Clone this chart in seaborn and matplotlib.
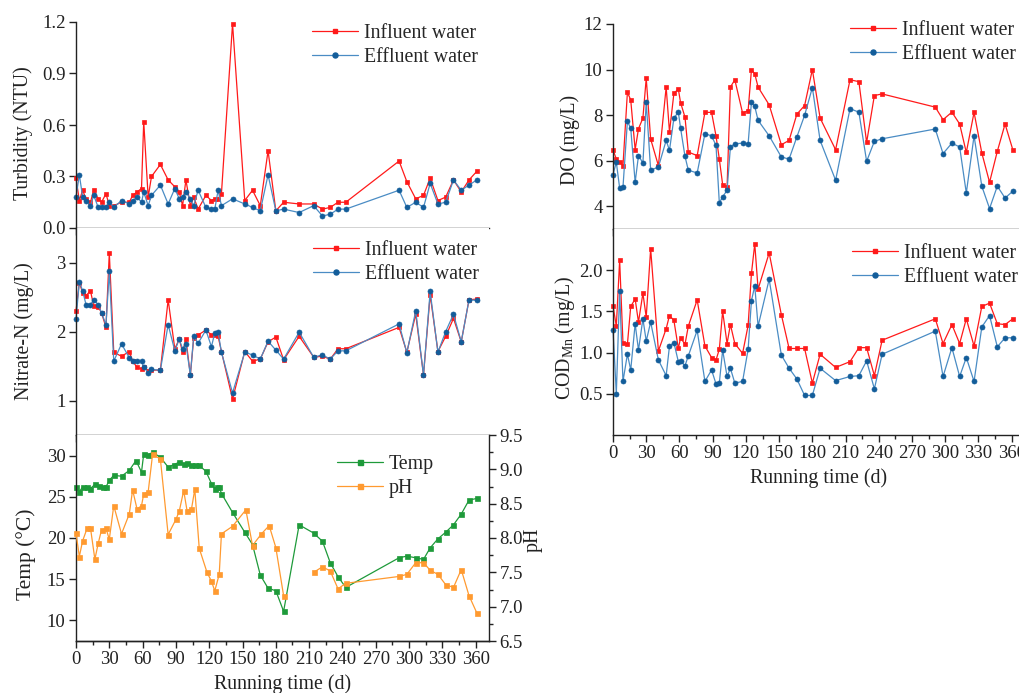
import numpy as np
import pandas as pd
import matplotlib
matplotlib.use("Agg")
import matplotlib.pyplot as plt
import seaborn as sns
from matplotlib.ticker import MultipleLocator, FixedLocator
from matplotlib.lines import Line2D

# ---------------- data ----------------
days = [0, 3, 6, 9, 13, 16, 20, 23, 27, 30, 34, 41, 48, 51, 55, 59, 61, 65, 68, 76,
        83, 89, 93, 96, 99, 103, 106, 110, 117, 122, 125, 128, 131, 141, 152, 159, 166, 173, 180, 187,
        201, 214, 222, 229, 236, 243, 291, 298, 306, 313, 319, 326, 333, 340, 347, 354, 361]

turb_in = [0.29, 0.16, 0.22, 0.17, 0.15, 0.22, 0.17, 0.15, 0.20, 0.13, 0.13, 0.15, 0.15, 0.19, 0.21, 0.23, 0.62, 0.18, 0.30, 0.37,
           0.28, 0.24, 0.21, 0.13, 0.28, 0.13, 0.18, 0.11, 0.19, 0.16, 0.17, 0.17, 0.20, 1.19, 0.16, 0.22, 0.13, 0.45, 0.10, 0.15,
           0.14, 0.14, 0.11, 0.12, 0.15, 0.15, 0.39, 0.27, 0.17, 0.19, 0.29, 0.16, 0.18, 0.28, 0.21, 0.28, 0.33]
turb_out = [0.18, 0.31, 0.18, 0.16, 0.13, 0.19, 0.12, 0.12, 0.12, 0.15, 0.12, 0.16, 0.14, 0.16, 0.18, 0.15, 0.21, 0.13, 0.19, 0.25,
            0.14, 0.23, 0.17, 0.18, 0.21, 0.17, 0.13, 0.22, 0.12, 0.11, 0.11, 0.22, 0.13, 0.17, 0.14, 0.12, 0.10, 0.31, 0.10, 0.11,
            0.09, 0.13, 0.07, 0.08, 0.11, 0.11, 0.22, 0.12, 0.15, 0.12, 0.26, 0.14, 0.15, 0.28, 0.22, 0.25, 0.28]

no3_in = [2.30, 2.71, 2.56, 2.52, 2.59, 2.37, 2.36, 2.27, 2.06, 3.14, 1.70, 1.64, 1.71, 1.57, 1.48, 1.46, 1.49, 1.43, 1.44, 1.44,
          2.46, 1.75, 1.89, 1.70, 1.89, 1.37, 1.90, 1.95, 2.02, 1.95, 1.95, 1.93, 1.71, 1.02, 1.71, 1.57, 1.60, 1.85, 1.92, 1.59,
          1.93, 1.63, 1.64, 1.60, 1.75, 1.75, 2.06, 1.70, 2.25, 1.37, 2.53, 1.71, 1.93, 2.19, 1.85, 2.46, 2.47]
no3_out = [2.18, 2.72, 2.59, 2.39, 2.39, 2.46, 2.39, 2.27, 2.10, 2.87, 1.57, 1.82, 1.62, 1.57, 1.57, 1.57, 1.49, 1.40, 1.45, 1.44,
           2.10, 1.72, 1.89, 1.75, 1.82, 1.37, 1.93, 1.83, 2.02, 1.78, 1.98, 1.99, 1.70, 1.11, 1.70, 1.66, 1.60, 1.86, 1.73, 1.60,
           1.99, 1.63, 1.66, 1.60, 1.72, 1.72, 2.11, 1.69, 2.30, 1.37, 2.58, 1.70, 2.00, 2.25, 1.85, 2.46, 2.45]

do_in = [6.48, 6.07, 5.94, 5.78, 9.00, 8.67, 6.48, 7.40, 7.87, 9.62, 6.95, 5.78, 9.23, 7.26, 8.96, 9.14, 8.55, 7.91, 6.38, 6.22,
         8.12, 8.12, 7.09, 6.07, 4.95, 4.85, 9.23, 9.55, 8.09, 8.20, 9.99, 9.81, 9.23, 8.45, 6.70, 6.89, 8.04, 8.42, 10.0, 7.87,
         6.48, 9.55, 9.47, 6.80, 8.86, 8.93, 8.35, 7.80, 8.13, 7.61, 6.36, 8.12, 6.34, 5.05, 6.41, 7.61, 6.48]
do_out = [5.39, 5.93, 4.80, 4.83, 7.72, 7.43, 5.05, 6.22, 5.90, 8.57, 5.58, 5.72, 6.89, 6.45, 7.87, 8.13, 7.43, 6.19, 5.58, 5.46,
          7.18, 7.09, 6.67, 4.15, 4.41, 4.70, 6.60, 6.74, 6.77, 6.74, 8.57, 8.38, 7.77, 7.09, 6.16, 6.07, 7.04, 7.99, 9.21, 6.89,
          5.14, 8.28, 8.13, 5.97, 6.85, 6.96, 7.39, 6.31, 6.77, 6.60, 4.58, 7.09, 4.88, 3.90, 4.88, 4.36, 4.66]

cod_in = [1.57, 1.32, 2.12, 1.12, 1.10, 1.56, 1.65, 1.37, 1.72, 1.43, 2.26, 1.02, 1.29, 1.45, 1.39, 1.05, 1.18, 1.10, 1.32, 1.64,
          1.08, 0.94, 0.91, 1.04, 1.50, 1.11, 1.34, 1.11, 0.99, 1.33, 1.96, 2.32, 1.77, 2.21, 1.46, 1.05, 1.05, 1.05, 0.63, 0.98,
          0.82, 0.89, 1.06, 1.06, 0.72, 1.15, 1.41, 1.11, 1.34, 1.11, 1.41, 1.08, 1.56, 1.60, 1.35, 1.34, 1.41]
cod_out = [1.28, 0.50, 1.75, 0.65, 0.98, 0.79, 1.35, 1.03, 1.41, 1.14, 1.37, 0.91, 0.72, 1.08, 1.12, 0.89, 0.90, 0.84, 0.96, 1.27,
           0.65, 0.79, 0.62, 0.63, 1.03, 0.71, 0.81, 0.63, 0.65, 1.04, 1.63, 1.81, 1.32, 1.89, 0.97, 0.81, 0.68, 0.48, 0.48, 0.81,
           0.66, 0.71, 0.72, 0.90, 0.56, 0.98, 1.26, 0.71, 1.06, 0.71, 0.94, 0.65, 1.31, 1.45, 1.07, 1.18, 1.18]

temp_days = [0, 3, 6, 10, 13, 17, 21, 24, 27, 30, 34, 41, 48, 54, 59, 61, 65, 69, 76, 83,
             88, 93, 97, 100, 104, 107, 111, 117, 122, 125, 127, 129, 131, 141, 152, 159, 166, 173, 180, 187,
             201, 214, 222, 229, 236, 243, 291, 298, 306, 313, 319, 326, 333, 340, 347, 354, 361]
temp = [26.2, 25.6, 26.2, 26.2, 26.0, 26.5, 26.3, 26.2, 26.2, 27.0, 27.6, 27.5, 28.2, 29.4, 28.0, 30.2, 30.1, 30.4, 29.8, 28.6,
        28.9, 29.2, 29.0, 29.1, 28.9, 28.9, 28.8, 28.1, 26.6, 26.0, 26.2, 26.2, 25.4, 23.1, 20.7, 19.2, 15.5, 13.9, 13.6, 11.1,
        21.6, 20.6, 19.6, 17.0, 15.3, 14.0, 17.6, 17.8, 17.6, 17.4, 18.8, 19.9, 20.7, 21.6, 22.9, 24.6, 24.8]

ph_days = [0, 3, 6, 10, 13, 17, 20, 23, 27, 30, 34, 41, 48, 51, 55, 59, 61, 65, 69, 76,
           83, 90, 93, 97, 100, 104, 107, 111, 118, 122, 125, 129, 131, 141, 153, 159, 167, 174, 180, 187,
           201, 214, 222, 229, 236, 243, 291, 298, 306, 313, 319, 326, 333, 340, 347, 354, 361]
ph = [8.07, 7.73, 7.96, 8.14, 8.15, 7.69, 7.92, 8.12, 8.14, 7.98, 8.47, 8.06, 8.35, 8.70, 8.42, 8.47, 8.64, 8.67, 9.22, 9.15,
      8.05, 8.27, 8.39, 8.69, 8.40, 8.42, 8.71, 7.85, 7.50, 7.37, 7.23, 7.47, 8.06, 8.17, 8.41, 7.89, 8.06, 8.18, 7.86, 7.16,
      np.nan, 7.50, 7.58, 7.52, 7.26, 7.34, 7.44, 7.47, 7.64, 7.64, 7.53, 7.47, 7.32, 7.28, 7.54, 7.16, 6.91]

x_ticks = list(range(0, 361, 30))

# ---------------- style ----------------
sns.set_theme(style="ticks")
plt.rcParams['font.family'] = ['Liberation Serif', 'DejaVu Serif']
plt.rcParams['mathtext.fontset'] = 'custom'
plt.rcParams['mathtext.rm'] = 'Liberation Serif'
plt.rcParams['mathtext.it'] = 'Liberation Serif:italic'
plt.rcParams['axes.linewidth'] = 1.0
plt.rcParams['axes.edgecolor'] = '#222222'

RED = '#ff1a1a'
BLUE_L = '#4a8cc4'
BLUE_M = '#135d9a'
GREEN = '#1e9a3a'
ORANGE = '#ff9a30'

TICK_FS = 13.5
LAB_FS = 14.3
LEG_FS = 14.3

W, H = 1019, 693
fig = plt.figure(figsize=(W / 100, H / 100), dpi=100)


def px_axes(x0, y0, x1, y1):
    return fig.add_axes([x0 / W, 1 - y1 / H, (x1 - x0) / W, (y1 - y0) / H])


def style_axes(ax, show_xlabels):
    ax.set_xlim(0, 372)
    ax.xaxis.set_major_locator(FixedLocator(x_ticks))
    ax.xaxis.set_minor_locator(MultipleLocator(15))
    for s in ['top', 'right']:
        ax.spines[s].set_visible(False)
    ax.tick_params(axis='both', which='major', direction='out', length=5, width=1,
                   labelsize=TICK_FS, colors='#222222', pad=2.5)
    ax.tick_params(axis='x', which='minor', direction='out', length=3, width=1, colors='#222222')
    ax.tick_params(axis='y', which='minor', left=False)
    if not show_xlabels:
        ax.tick_params(axis='x', labelbottom=False)
    ax.set_xlabel('')
    ax.set_ylabel('')
    ax.grid(False)


def draw_pair(ax, x, yin, yout):
    df = pd.DataFrame({'day': x, 'in': yin, 'out': yout})
    sns.lineplot(data=df, x='day', y='in', ax=ax, color=RED, marker='s', markersize=3.3,
                 markerfacecolor=RED, markeredgecolor=RED, markeredgewidth=0.5, linewidth=0.9,
                 sort=False, estimator=None, label='Influent water', legend=False, clip_on=False)
    sns.lineplot(data=df, x='day', y='out', ax=ax, color=BLUE_L, marker='o', markersize=3.6,
                 markerfacecolor=BLUE_M, markeredgecolor=BLUE_M, markeredgewidth=0.5, linewidth=0.9,
                 sort=False, estimator=None, label='Effluent water', legend=False, clip_on=False)


def add_legend(ax, handles, labels, x, y):
    ax.legend(handles, labels, loc='upper left', bbox_to_anchor=(x / W, 1 - y / H),
              bbox_transform=fig.transFigure, frameon=False, fontsize=LEG_FS,
              borderpad=0, borderaxespad=0, handlelength=2.3, handletextpad=0.3,
              labelspacing=0.25, numpoints=1)


def pair_handles():
    h1 = Line2D([], [], color=RED, marker='s', markersize=3.3, markerfacecolor=RED,
                markeredgecolor=RED, linewidth=0.9)
    h2 = Line2D([], [], color=BLUE_L, marker='o', markersize=3.6, markerfacecolor=BLUE_M,
                markeredgecolor=BLUE_M, linewidth=0.9)
    return [h1, h2], ['Influent water', 'Effluent water']


# ---------------- Turbidity ----------------
ax1 = px_axes(76, 22, 489, 228)
draw_pair(ax1, days, turb_in, turb_out)
style_axes(ax1, False)
ax1.set_ylim(0, 1.2)
ax1.set_yticks([0.0, 0.3, 0.6, 0.9, 1.2])
ax1.set_yticklabels(['0.0', '0.3', '0.6', '0.9', '1.2'])
ax1.set_ylabel('Turbidity (NTU)', fontsize=LAB_FS, color='#222222')
ax1.yaxis.set_label_coords(-0.104, 0.46)
h, l = pair_handles()
add_legend(ax1, h, l, 312, 24)

# ---------------- Nitrate ----------------
ax2 = px_axes(76, 228, 489, 435)
draw_pair(ax2, days, no3_in, no3_out)
style_axes(ax2, False)
ax2.set_ylim(0.5, 3.5)
ax2.set_yticks([1, 2, 3])
ax2.set_ylabel('Nitrate-N (mg/L)', fontsize=LAB_FS, color='#222222')
ax2.yaxis.set_label_coords(-0.102, 0.5)
h, l = pair_handles()
add_legend(ax2, h, l, 313, 241)

# ---------------- Temp / pH ----------------
ax3 = px_axes(76, 435, 489, 641)
tdf = pd.DataFrame({'day': temp_days, 'temp': temp})
sns.lineplot(data=tdf, x='day', y='temp', ax=ax3, color=GREEN, marker='s', markersize=3.6,
             markerfacecolor=GREEN, markeredgecolor=GREEN, markeredgewidth=0.5, linewidth=0.9,
             sort=False, estimator=None, legend=False, clip_on=False)
style_axes(ax3, True)
ax3.set_ylim(7.5, 32.5)
ax3.set_yticks([10, 15, 20, 25, 30])
ax3.set_ylabel('Temp (\u00b0C)', fontsize=15.5, color='#222222')
ax3.yaxis.set_label_coords(-0.097, 0.42)
ax3.set_xlabel('Running time (d)', fontsize=LAB_FS, color='#222222', labelpad=4)

ax3b = ax3.twinx()
seg = np.cumsum(np.isnan(np.array(ph, dtype=float)))
pdf = pd.DataFrame({'day': ph_days, 'ph': ph, 'seg': seg}).dropna()
sns.lineplot(data=pdf, x='day', y='ph', units='seg', ax=ax3b, color=ORANGE, marker='s', markersize=3.6,
             markerfacecolor=ORANGE, markeredgecolor=ORANGE, markeredgewidth=0.5, linewidth=0.9,
             sort=False, estimator=None, legend=False, clip_on=False)
ax3b.set_ylim(6.5, 9.5)
ax3b.set_yticks([6.5, 7.0, 7.5, 8.0, 8.5, 9.0, 9.5])
ax3b.yaxis.set_minor_locator(MultipleLocator(0.25))
ax3b.spines['top'].set_visible(False)
ax3b.spines['left'].set_visible(False)
ax3b.tick_params(axis='y', which='major', direction='out', length=5, width=1,
                 labelsize=TICK_FS, colors='#222222', pad=2.5)
ax3b.tick_params(axis='y', which='minor', direction='out', length=3, width=1, colors='#222222')
ax3b.set_ylabel('pH', fontsize=LAB_FS, color='#222222')
ax3b.yaxis.set_label_coords(1.085, 0.49)
ax3b.grid(False)
ax3b.set_xlim(0, 372)
hT = Line2D([], [], color=GREEN, marker='s', markersize=3.6, markerfacecolor=GREEN,
            markeredgecolor=GREEN, linewidth=0.9)
hP = Line2D([], [], color=ORANGE, marker='s', markersize=3.6, markerfacecolor=ORANGE,
            markeredgecolor=ORANGE, linewidth=0.9)
add_legend(ax3b, [hT, hP], ['Temp', 'pH'], 337, 455)

# ---------------- DO ----------------
ax4 = px_axes(613, 24, 1025, 229)
draw_pair(ax4, days, do_in, do_out)
style_axes(ax4, False)
ax4.set_ylim(3, 12)
ax4.set_yticks([4, 6, 8, 10, 12])
ax4.set_ylabel('DO (mg/L)', fontsize=LAB_FS, color='#222222')
ax4.yaxis.set_label_coords(-0.08, 0.434)
h, l = pair_handles()
add_legend(ax4, h, l, 850, 21)

# ---------------- COD ----------------
ax5 = px_axes(613, 229, 1025, 435)
draw_pair(ax5, days, cod_in, cod_out)
style_axes(ax5, True)
ax5.set_ylim(0, 2.5)
ax5.set_yticks([0.5, 1.0, 1.5, 2.0])
ax5.set_yticklabels(['0.5', '1.0', '1.5', '2.0'])
ax5.set_ylabel('COD$_{\\mathrm{Mn}}$ (mg/L)', fontsize=LAB_FS, color='#222222')
ax5.yaxis.set_label_coords(-0.088, 0.47)
ax5.set_xlabel('Running time (d)', fontsize=LAB_FS, color='#222222', labelpad=4)
h, l = pair_handles()
add_legend(ax5, h, l, 852, 244)

fig.savefig('out.png', dpi=100)
